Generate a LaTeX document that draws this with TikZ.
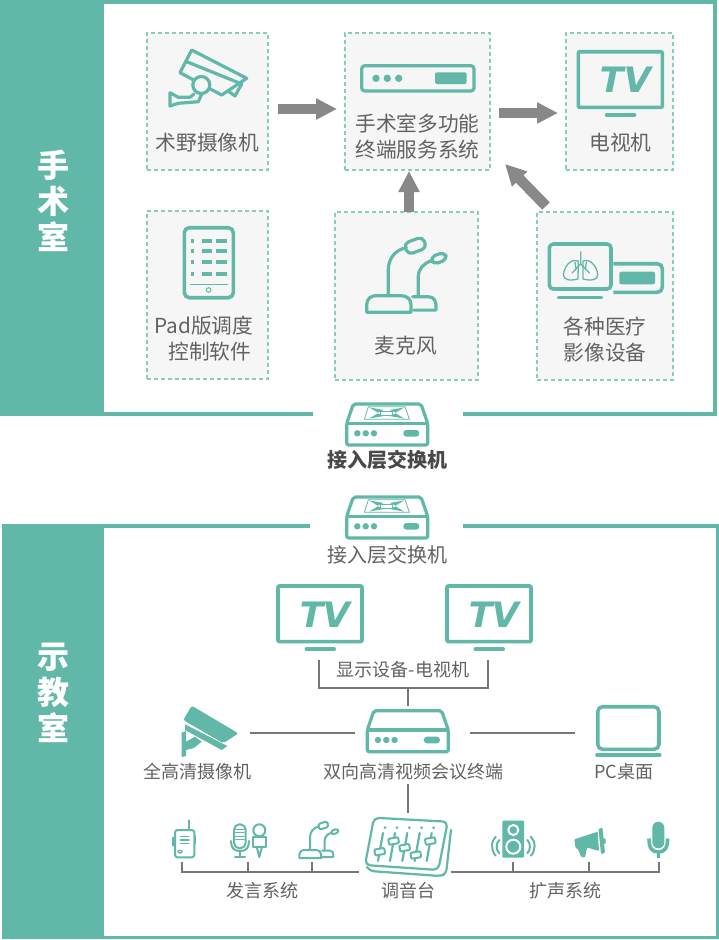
\documentclass[tikz,border=0pt]{standalone}
\usepackage{fontspec}
\setmainfont{Noto Sans CJK SC}
\newfontfamily\tvfont[FakeSlant=0.2]{DejaVu Sans}
\usetikzlibrary{arrows.meta}
\definecolor{mainteal}{HTML}{62B8A8}
\definecolor{dashteal}{HTML}{86CDBD}
\definecolor{boxgray}{HTML}{F6F6F6}
\definecolor{arrowgray}{HTML}{888888}
\definecolor{linegray}{HTML}{777777}
\definecolor{textgray}{HTML}{626262}
\tikzset{
  panelline/.style={draw=mainteal,line width=3.5pt},
  dashbox/.style={draw=dashteal,fill=boxgray,line width=1.1pt,dash pattern=on 4pt off 3pt,inner sep=0pt,outer sep=0pt},
  fatarrow/.style={draw=arrowgray,line width=10.5pt,-{Triangle[length=21pt,width=20pt]}},
  linkline/.style={draw=linegray,line width=1.7pt},
  iconline/.style={draw=mainteal,line width=3.2pt,line join=round,line cap=round},
  thinline/.style={draw=mainteal,line width=1.3pt,line join=round,line cap=round},
  lbl/.style={text=textgray,font=\fontsize{20.7}{26}\selectfont,align=center,inner sep=0pt},
  lblsmall/.style={text=textgray,font=\fontsize{18}{24}\selectfont,align=center,inner sep=0pt},
  lblbold/.style={text=textgray!75!black,font=\fontsize{20}{26}\selectfont\bfseries,align=center,inner sep=0pt},
  bandtext/.style={text=white,font=\fontsize{32}{36}\selectfont\bfseries,align=center,inner sep=0pt},
  tvicon/.pic={
    \draw[iconline,line width=3.6pt,rounded corners=1pt] (0,0) rectangle (84,55.6);
    \node[text=mainteal,font=\fontsize{35}{35}\selectfont\tvfont\bfseries,inner sep=0pt] (-txt) at (44.5,28.5) {TV};
    \draw[iconline,line width=4pt] (28.5,63.3) -- (56,63.3);
  },
  boxicon/.pic={
    \draw[iconline,rounded corners=2pt] (6.6,0) -- (74.3,0) -- (81,19.3) -- (81,41) -- (0,41) -- (0,19.3) -- cycle;
    \draw[iconline] (1,19.3) -- (80,19.3);
    \foreach \x in {10.6,19,27.3}
      \fill[mainteal] (\x,29.3) circle (3.2pt);
    \fill[mainteal,rounded corners=3pt] (56.6,26) rectangle (72.6,32.6);
  },
  switchicon/.pic={
    \pic {boxicon};
    \draw[thinline,line width=.8pt] (21.7,2.7) -- (58.3,2.7) -- (62.7,15.3) -- (17.7,15.3) -- cycle;
    \foreach \sx/\sy in {-1/-1,1/-1,-1/1,1/1}
      \fill[mainteal] ({40+\sx*17.5},{9+\sy*5.6}) -- ({40+\sx*3},{9+\sy*3}) -- ({40+\sx*9},{9+\sy*.4}) -- cycle;
    \draw[thinline,line width=.8pt,fill=white] (34,7) rectangle (46,11);
  },
  micicon/.pic={
    % big one
    \draw[micline] (-21.6,16.6) -- (-21.6,9) .. controls (-21.6,3) and (-17,0) .. (-13,0) -- (13,0) .. controls (18,0) and (22.7,3) .. (22.7,9) -- (22.7,16.6) -- cycle;
    \draw[micline] (0,0) -- (0,-26) .. controls (0,-37) and (7,-46) .. (18,-48);
    \draw[micline,rounded corners=#1pt,rotate around={20:(27,-50)}] (17,-56) rectangle (37,-44);
    % small one
    \draw[micline] (24.5,1) -- (40,1) .. controls (46,1) and (47.7,6) .. (47.7,10) -- (47.7,14.4) -- (25.5,14.4);
    \draw[micline] (30,1) -- (30,-19) .. controls (30,-27) and (36,-33) .. (43.4,-35);
    \draw[micline,rounded corners=#1pt,rotate around={20:(50.5,-37.4)}] (43,-41.4) rectangle (58,-33.4);
  },
  micline/.style={draw=mainteal,line join=round,line cap=round},
}
\begin{document}
\begin{tikzpicture}[x=1pt,y=-1pt,>=stealth]
  \useasboundingbox (0,0) rectangle (719,940);
  \fill[white] (0,0) rectangle (719,940);
  % 上框
  \fill[mainteal] (0,0) rectangle (104,416);
  \draw[panelline] (104,2) -- (715,2) -- (715,414) -- (463,414);
  \draw[panelline] (104,414) -- (313,414);
  \node[bandtext] (bandOp) at (53,201) {手\\术\\室};
  % 下框
  \fill[mainteal] (2,524) rectangle (104,939);
  \draw[panelline] (104,526) -- (310,526);
  \draw[panelline] (463,526) -- (717.3,526) -- (717.3,937.3) -- (104,937.3);
  \node[bandtext] (bandTeach) at (53,693) {示\\教\\室};

  % 虚线框
  \node[dashbox,minimum width=121pt,minimum height=137pt] (boxCam) at (207.5,101.5) {};
  \node[dashbox,minimum width=145pt,minimum height=137pt] (boxSrv) at (417.5,101.5) {};
  \node[dashbox,minimum width=107pt,minimum height=137pt] (boxTv) at (619.5,101.5) {};
  \node[dashbox,minimum width=121pt,minimum height=168pt] (boxPad) at (207.5,295) {};
  \node[dashbox,minimum width=143pt,minimum height=168pt] (boxMic) at (406.5,296) {};
  \node[dashbox,minimum width=136pt,minimum height=168pt] (boxImg) at (605,296) {};

  % 灰色箭头
  \draw[fatarrow] ([shift={(10,7.5)}]boxCam.east) -- ([shift={(-8,7.5)}]boxSrv.west);
  \draw[fatarrow] ([shift={(9,11.5)}]boxSrv.east) -- ([shift={(-8,11.5)}]boxTv.west);
  \draw[fatarrow] ([xshift=2.5pt]boxMic.north) -- ([xshift=-8.5pt,yshift=-1pt]boxSrv.south);
  \draw[fatarrow] ([shift={(-59,-6)}]boxImg.north) -- ([shift={(15,-6)}]boxSrv.south east);

  % 术野摄像机
  \draw[iconline] (191.7,50) -- (246.7,78.3) -- (221.7,95) -- (180,72.7) -- cycle;
  \draw[iconline] (186.7,61.7) -- (241.7,84) -- (235,96) -- (229,91.7);
  \draw[iconline,fill=boxgray] (201.3,85) circle (8.5pt);
  \draw[iconline] (194,94) -- (190,97.3) -- (178.3,97.3) -- (170,92.7) -- (170,106) -- (178.3,103.3) -- (198.3,101.7) -- (201.7,94);
  \node[lbl] (camText) at (207.5,143) {术野摄像机};

  % 服务终端
  \draw[iconline,rounded corners=3pt] (361.7,65.7) rectangle (474,91);
  \foreach \x in {376,387.3,398.7}
    \fill[mainteal] (\x,78.3) circle (3.7pt);
  \fill[mainteal,rounded corners=2pt] (435,72.3) rectangle (466.7,84);
  \node[lbl] (srvText) at (417.5,137) {手术室多功能\\终端服务系统};

  % 电视机
  \pic (tvTop) at (578.3,51.7) {tvicon};
  \node[lbl] (tvText) at (620.5,143) {电视机};

  % Pad
  \draw[iconline,rounded corners=5pt,line width=3.6pt] (184.3,227.7) rectangle (233.3,297.7);
  \foreach \y in {240.7,251.3,262,274.3} {
    \fill[mainteal] (190.7,\y-2) rectangle (194.3,\y+2);
    \fill[mainteal] (201.7,\y-2) rectangle (212.3,\y+2);
    \fill[mainteal] (216,\y-2) rectangle (226.7,\y+2);
  }
  \draw[mainteal,line width=1.4pt] (190,284.3) -- (227.7,284.3);
  \draw[mainteal,line width=1pt] (208.7,290) circle (2.3pt);
  \node[lbl,align=right] (padText) at (204,338.5) {Pad版调度\\控制软件\hspace*{2pt}};

  % 麦克风
  \pic[line width=3.2pt] at (388.3,295.7) {micicon=5};
  \node[lbl] (micText) at (406,346) {麦克风};

  % 医疗影像
  \draw[iconline,line width=3.6pt,rounded corners=4pt] (549.3,244) rectangle (611,289);
  \draw[iconline] (558.3,297.7) -- (601.7,297.7);
  \draw[iconline,line width=3.6pt,rounded corners=5pt,line cap=butt] (613.3,263.7) -- (662.3,263.7) -- (662.3,292.3) -- (613.3,292.3);
  \fill[mainteal,rounded corners=2pt] (619.3,271.7) rectangle (655,284.3);
  \draw[thinline] (578.3,261) .. controls (570,258) and (563.5,268) .. (563.5,275) .. controls (563.5,280) and (570,281) .. (578,279) -- cycle;
  \draw[thinline] (583,261) .. controls (591,258) and (597.7,268) .. (597.7,275) .. controls (597.7,280) and (591,281) .. (583,279) -- cycle;
  \draw[thinline] (580.7,251.7) -- (580.7,264) -- (572,273);
  \draw[thinline] (580.7,264) -- (589.4,273);
  \draw[thinline] (576,269) -- (575,262);
  \draw[thinline] (585.4,269) -- (586.4,262);
  \node[lbl] (imgText) at (605,339.5) {各种医疗\\影像设备};

  % 交换机
  \pic (swUp) at (346.7,404) {switchicon};
  \node[lblbold] (swUpText) at (387,459.5) {接入层交换机};
  \pic (swLow) at (346.7,497) {switchicon};
  \node[lblsmall,font=\fontsize{20}{26}\selectfont] (swLowText) at (387,555) {接入层交换机};

  % 显示设备
  \pic (tvA) at (278,586) {tvicon};
  \pic (tvB) at (447,586) {tvicon};
  \node[lblsmall] (dispText) at (403,670) {显示设备-电视机};

  % 全高清摄像机
  \fill[mainteal,rounded corners=2pt] (191.7,705.7) -- (238.3,733.3) -- (223.3,743.3) -- (183.3,720) -- cycle;
  \fill[mainteal] (185,724.3) -- (227.3,746) -- (221.7,750) -- (185,730) -- cycle;
  \fill[mainteal] (181.7,732.7) -- (186,731) -- (186,741.7) -- (195,736.7) -- (201.7,741.7) -- (193.3,748.3) -- (186,750) -- (186,756) -- (181.7,757) -- cycle;
  \node[lblsmall] (hdCamText) at (197,772) {全高清摄像机};

  % 视频终端
  \pic at (367.3,710.7) {boxicon};
  \node[lblsmall] (termText) at (413,772) {双向高清视频会议终端};

  % PC桌面
  \draw[iconline,line width=3.6pt,rounded corners=5pt] (597.7,706.7) rectangle (659,749.3);
  \draw[iconline,line width=3.6pt] (597,754.7) -- (659.7,754.7);
  \node[lblsmall] (pcText) at (624,772) {PC桌面};

  % 对讲机
  \draw[iconline,line width=2pt,rounded corners=2.5pt] (175,830) rectangle (194.3,857.3);
  \draw[iconline,line width=2.4pt] (189,820.5) -- (189,830);
  \draw[iconline,line width=2pt] (173,837.5) -- (173,845.5);
  \draw[iconline,line width=1.6pt] (195.5,836) -- (195.5,843);
  \foreach \y in {836.7,840,843.3}
    \draw[thinline] (180.5,\y) -- (189,\y);
  \draw[thinline] (180,851.7) ellipse (2.2pt and 1.2pt);

  % 话筒
  \draw[iconline,line width=2pt,rounded corners=5.5pt] (234,824.3) rectangle (245.7,848.3);
  \foreach \y in {829,832.5,836,839.5}
    \draw[thinline,line width=1pt] (235.5,\y) -- (244.2,\y);
  \draw[iconline,line width=2pt] (231,841) .. controls (231,848) and (234,851) .. (240,851) .. controls (246,851) and (249,848) .. (249,841);
  \draw[iconline,line width=2pt] (240,851) -- (240,856.7);
  \draw[iconline,line width=2pt] (235,856.7) -- (245,856.7);
  \draw[iconline,line width=2pt] (259.3,830.3) circle (6pt);
  \draw[iconline,line width=2pt] (253.3,836.5) rectangle (265.7,846.7);
  \draw[iconline,line width=2pt] (256.7,846.7) -- (259.3,857) -- (262,846.7);

  % 小麦克风
  \pic[line width=2pt,scale=.49] at (310,850) {micicon=2.5};

  % 调音台
  \draw[iconline,line width=2.2pt,rounded corners=5pt] (374,817.7) -- (447.7,821.7) -- (438.3,870) -- (365,865) -- cycle;
  \draw[iconline,line width=2.2pt,rounded corners=4pt] (367,867) -- (370,871) -- (440,876) -- (446,874) -- (451,830);
  \foreach \x/\yy/\hx in {385/851.7/379.7,397/841/393.6,409.3/847.7/404.7,421.7/855/415.8,433.7/841/430.3} {
    \fill[mainteal] (\x,827.7) circle (1.5pt);
    \draw[iconline,line width=2.2pt] (\x-2,833) -- (\x-7,861);
    \draw[iconline,line width=2pt,fill=white,rounded corners=1pt,rotate around={10:(\hx,\yy)}] (\hx-5,\yy-3) rectangle (\hx+5,\yy+3);
  }
  \node[lblsmall] (mixText) at (408,891) {调音台};

  % 音箱
  \fill[mainteal,rounded corners=1pt] (502.3,820.7) rectangle (524,857.7);
  \foreach \c/\r in {830/5,846.7/7}
    \draw[white,line width=2pt] (513.3,\c) circle (\r pt);
  \foreach \sx in {-1,1} {
    \draw[iconline,line width=2pt] ({513.3+\sx*17.6},836.7) .. controls ({513.3+\sx*22.5},841) and ({513.3+\sx*22.5},851) .. ({513.3+\sx*17.6},855.7);
    \draw[iconline,line width=2pt] ({513.3+\sx*14},840) .. controls ({513.3+\sx*17.5},843) and ({513.3+\sx*17.5},850) .. ({513.3+\sx*14},853.3);
  }

  % 喇叭
  \fill[mainteal,rounded corners=1pt] (574.3,839.3) -- (597.7,831.7) -- (599,851) -- (587,847.5) -- (585,857.7) -- (581,856.7) -- (578,849) -- (575.5,848) -- cycle;
  \fill[mainteal,rounded corners=1pt] (598.5,829) -- (602.5,827.5) -- (605,853) -- (601,854) -- cycle;
  \fill[mainteal] (603,838) -- (605.5,839) -- (605.8,843) -- (604,844) -- cycle;

  % 麦克
  \fill[mainteal,rounded corners=6pt] (652.3,821.7) rectangle (664.3,848.3);
  \draw[iconline,line width=3.6pt,line cap=butt] (649,838.5) .. controls (649,848) and (652,852) .. (658.3,852) .. controls (664.6,852) and (667.6,848) .. (667.6,838.5);
  \draw[iconline,line width=3.6pt,line cap=butt] (658.3,852) -- (658.3,857.7);

  % 连接线
  \coordinate (tvAend) at (319,660);
  \coordinate (tvBend) at (488,660);
  \coordinate (tvMid) at (408,688);
  \coordinate (termTop) at (408,706);
  \coordinate (termBot) at (408,784);
  \coordinate (mixTop) at (408,813);
  \coordinate (hdCamEnd) at (250,732.7);
  \coordinate (termL) at (355,732.7);
  \coordinate (termR) at (470,732.7);
  \coordinate (pcEnd) at (574.5,732.7);
  \coordinate (mixL) at (359,872);
  \coordinate (mixR) at (451,872);
  \coordinate (talkA) at (181.7,862.3);
  \coordinate (talkB) at (248.3,862.3);
  \coordinate (talkC) at (312,862.3);
  \coordinate (ampA) at (512.7,862.3);
  \coordinate (ampB) at (589.3,862.3);
  \coordinate (ampC) at (659,862.3);
  \draw[linkline] (tvAend) |- (tvMid) -| (tvBend);
  \draw[linkline] (tvMid) -- (termTop);
  \draw[linkline] (termBot) -- (mixTop);
  \draw[linkline] (hdCamEnd) -- (termL);
  \draw[linkline] (termR) -- (pcEnd);
  \draw[linkline] (talkA) |- (mixL);
  \draw[linkline] (talkB) -- (talkB|-mixL);
  \draw[linkline] (talkC) -- (talkC|-mixL);
  \draw[linkline] (ampC) |- (mixR);
  \draw[linkline] (ampA) -- (ampA|-mixR);
  \draw[linkline] (ampB) -- (ampB|-mixR);
  \node[lblsmall] (talkText) at (262,891) {发言系统};
  \node[lblsmall] (ampText) at (565,891) {扩声系统};
\end{tikzpicture}
\end{document}
